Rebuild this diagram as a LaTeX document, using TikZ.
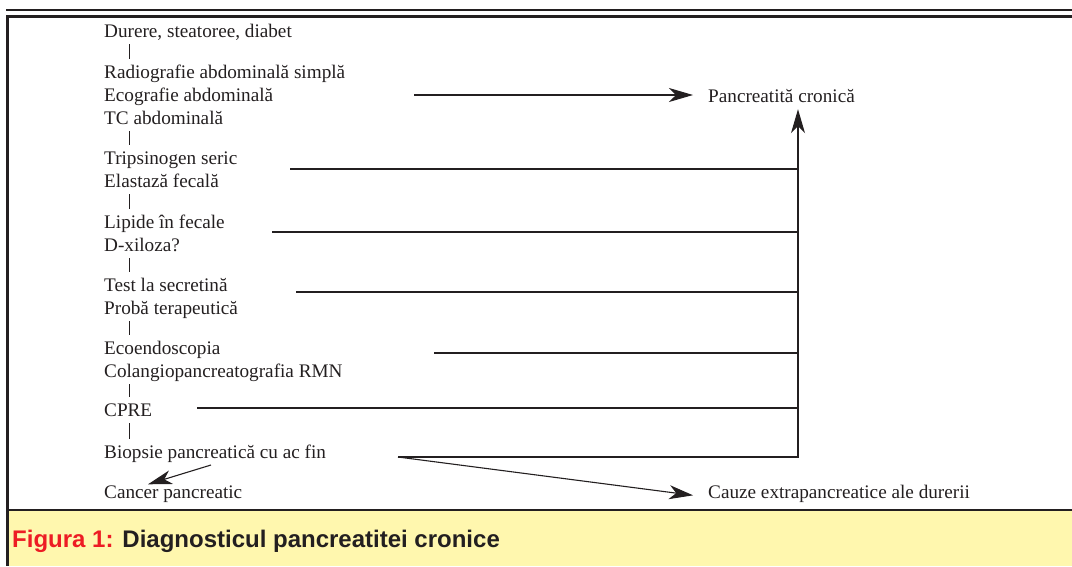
\documentclass[tikz,border=0pt]{standalone}
\usepackage{fontspec}
\setmainfont{Liberation Serif}
\newfontfamily\capfont{Liberation Sans}
\usetikzlibrary{arrows.meta}
\definecolor{inkcol}{HTML}{231F20}
\definecolor{capred}{HTML}{ED1C24}
\definecolor{capyellow}{HTML}{FFF7AE}
\tikzstyle{stepText}=[anchor = base west, inner sep = 0pt, text height = 13.5pt, text depth = 4pt, font = \fontsize{19.2}{23}\selectfont, text = inkcol]
\tikzstyle{linkLine}=[line width = 1.1pt, draw = inkcol]
\tikzstyle{linkArrow}=[linkLine, -{Stealth[length = 24pt, width = 14pt, inset = 7pt]}]

\begin{document}
\begin{tikzpicture}[x = 1pt, y = -1pt]
\tikzstyle{barLine} = [linkLine, line width = 0.9pt, shorten <= 3pt, shorten >= 5pt]
\useasboundingbox (0,0) rectangle (1072,566);
\fill[capyellow] (8,510) rectangle (1072,566);
\draw[line width = 1.2pt, draw = inkcol] (6,10) -- (1072,10);
\draw[line width = 2.2pt, draw = inkcol] (6,16.5) -- (1072,16.5);
\draw[line width = 2.4pt, draw = inkcol] (7.5,15.5) -- (7.5,566);
\draw[line width = 2.2pt, draw = inkcol] (6.5,510) -- (1072,510);
\node[stepText] (s0) at (104,37) {Durere, steatoree, diabet};
\node[stepText] (s1) at (104,78) {Radiografie abdominală simplă};
\node[stepText] (s2) at (104,101) {Ecografie abdominală};
\node[stepText] (s3) at (104,124) {TC abdominală};
\node[stepText] (s4) at (104,164) {Tripsinogen seric};
\node[stepText] (s5) at (104,187) {Elastază fecală};
\node[stepText] (s6) at (104,228) {Lipide în fecale};
\node[stepText] (s7) at (104,251) {D-xiloza?};
\node[stepText] (s8) at (104,291) {Test la secretină};
\node[stepText] (s9) at (104,314) {Probă terapeutică};
\node[stepText] (s10) at (104,354) {Ecoendoscopia};
\node[stepText] (s11) at (104,377) {Colangiopancreatografia RMN};
\node[stepText] (s12) at (104,416) {CPRE};
\node[stepText] (s13) at (104,458) {Biopsie pancreatică cu ac fin};
\node[stepText] (cancer) at (104,498) {Cancer pancreatic};
\node[stepText] (cronica) at (708,102) {Pancreatită cronică};
\node[stepText] (extra) at (708,498) {Cauze extrapancreatice ale durerii};
\node[anchor = base west, inner sep = 0pt, font = \capfont\bfseries\fontsize{24}{28}\selectfont] (cap) at (12,547) {\textcolor{capred}{Figura 1:} \textcolor{inkcol}{Diagnosticul pancreatitei cronice}};
\draw[barLine] ([xshift = 25pt]s0.south west) -- ([xshift = 25pt]s1.north west);
\draw[barLine] ([xshift = 25pt]s3.south west) -- ([xshift = 25pt]s4.north west);
\draw[barLine] ([xshift = 25pt]s5.south west) -- ([xshift = 25pt]s6.north west);
\draw[barLine] ([xshift = 25pt]s7.south west) -- ([xshift = 25pt]s8.north west);
\draw[barLine] ([xshift = 25pt]s9.south west) -- ([xshift = 25pt]s10.north west);
\draw[barLine] ([xshift = 25pt]s11.south west) -- ([xshift = 25pt]s12.north west);
\draw[barLine] ([xshift = 25pt]s12.south west) -- ([xshift = 25pt]s13.north west);
\coordinate (eco) at (414,95);
\coordinate (trunk) at (798,457);
\coordinate (trip) at (290,169);
\coordinate (lip) at (272,232);
\coordinate (secr) at (296,292);
\coordinate (endo) at (434,353);
\coordinate (cpre) at (197,408);
\coordinate (bio) at (398,457);
\coordinate (canc) at (211,465);
\draw[linkArrow, shorten >= 15pt] (eco) -- (eco -| cronica.west);
\draw[linkArrow, shorten >= 3pt] (bio) -- (trunk) -- (trunk |- cronica.south);
\draw[linkLine] (trip) -- (trip -| trunk);
\draw[linkLine] (lip) -- (lip -| trunk);
\draw[linkLine] (secr) -- (secr -| trunk);
\draw[linkLine] (endo) -- (endo -| trunk);
\draw[linkLine] (cpre) -- (cpre -| trunk);
\draw[linkArrow, shorten >= 15pt] (bio) -- ([yshift = -4pt]extra.west);
\draw[linkArrow] (canc) -- ([xshift = 44pt]cancer.north west);
\end{tikzpicture}
\end{document}
